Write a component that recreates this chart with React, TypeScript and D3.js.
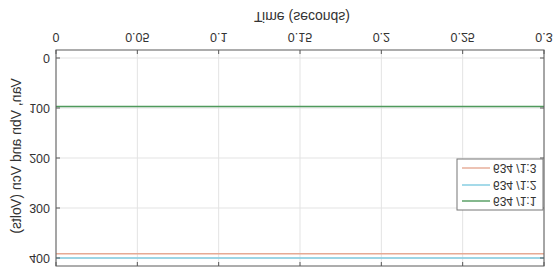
import React from "react";
import * as d3 from "d3";

const W = 556;
const H = 269;

// Data (original orientation: time on x, volts on y)
const timeTicks = [0, 0.05, 0.1, 0.15, 0.2, 0.25, 0.3];
const timeTickLabels = ["0", "0.05", "0.1", "0.15", "0.2", "0.25", "0.3"];
const voltTicks = [0, 100, 200, 300, 400];
const voltTickLabels = ["0", "100", "200", "300", "400"];
const seriesNames = ["634 /1:1", "634 /1:2", "634 /1:3"];
const seriesColors = ["#4f9a5c", "#7fcbe0", "#e6aa94"];
const times = [0, 0.3];
const series11 = [97, 97];
const series12 = [400, 400];
const series13 = [391.5, 391.5];
const allSeries = [series11, series12, series13];

export default function App() {
  const x = d3.scaleLinear().domain([0, 0.3]).range([56, 544]);
  const y = d3.scaleLinear().domain([-16, 416]).range([219, 3]);
  const line = d3
    .line<number>()
    .x((_, i) => x(times[i]))
    .y((d) => y(d));
  const font = "'Liberation Sans', Arial, Helvetica, sans-serif";
  const x0 = x.range()[0];
  const x1 = x.range()[1];
  const yTop = y.range()[1];
  const yBot = y.range()[0];
  const tk = 4;
  const axisColor = "#5a5a5a";
  const textColor = "#333";

  const legX = 457;
  const legY = 59;
  const legW = 86;
  const legH = 51;
  const rowYs = [68, 84, 101];

  return (
    <svg
      width={W}
      height={H}
      viewBox={`0 0 ${W} ${H}`}
      style={{ position: "absolute", left: 0, top: 0, background: "#fff" }}
    >
      <rect x={0} y={0} width={W} height={H} fill="#fff" />
      <g transform={`matrix(1,0,0,-1,0,${H})`}>
        <rect x={x0} y={yTop} width={x1 - x0} height={yBot - yTop} fill="#fff" />
        {/* grid */}
        {timeTicks.map((t) => (
          <line key={"gx" + t} x1={x(t)} x2={x(t)} y1={yTop} y2={yBot} stroke="#e3e3e3" strokeWidth={1} />
        ))}
        {voltTicks.map((v) => (
          <line key={"gy" + v} x1={x0} x2={x1} y1={y(v)} y2={y(v)} stroke="#e3e3e3" strokeWidth={1} />
        ))}
        {/* data lines */}
        {allSeries.map((s, i) => (
          <path key={"s" + i} d={line(s) || ""} fill="none" stroke={seriesColors[i]} strokeWidth={1.4} />
        ))}
        {/* frame */}
        <rect x={x0} y={yTop} width={x1 - x0} height={yBot - yTop} fill="none" stroke={axisColor} strokeWidth={1} />
        {/* ticks */}
        {timeTicks.map((t) => (
          <g key={"tx" + t}>
            <line x1={x(t)} x2={x(t)} y1={yBot} y2={yBot - tk} stroke={axisColor} />
            <line x1={x(t)} x2={x(t)} y1={yTop} y2={yTop + tk} stroke={axisColor} />
          </g>
        ))}
        {voltTicks.map((v) => (
          <g key={"ty" + v}>
            <line x1={x0} x2={x0 + tk} y1={y(v)} y2={y(v)} stroke={axisColor} />
            <line x1={x1} x2={x1 - tk} y1={y(v)} y2={y(v)} stroke={axisColor} />
          </g>
        ))}
        {/* tick labels */}
        {timeTicks.map((t, i) => (
          <text
            key={"lx" + t}
            x={x(t)}
            y={232}
            textAnchor="middle"
            dominantBaseline="central"
            fontFamily={font}
            fontSize={12.5}
            fill={textColor}
          >
            {timeTickLabels[i]}
          </text>
        ))}
        {voltTicks.map((v, i) => (
          <text
            key={"ly" + v}
            x={x0 - 6}
            y={y(v)}
            textAnchor="end"
            dominantBaseline="central"
            fontFamily={font}
            fontSize={12.5}
            fill={textColor}
          >
            {voltTickLabels[i]}
          </text>
        ))}
        {/* axis labels */}
        <text
          x={(x0 + x1) / 2 + 2}
          y={252}
          textAnchor="middle"
          dominantBaseline="central"
          fontFamily={font}
          fontSize={14}
          fill={textColor}
        >
          Time (seconds)
        </text>
        <text
          transform={`translate(16,113) rotate(-90)`}
          textAnchor="middle"
          dominantBaseline="central"
          fontFamily={font}
          fontSize={14}
          fill={textColor}
        >
          Van, Vbn and Vcn (Volts)
        </text>
        {/* legend */}
        <rect x={legX} y={legY} width={legW} height={legH} fill="#fff" stroke="#777" strokeWidth={1} />
        {seriesNames.map((n, i) => (
          <g key={"lg" + i}>
            <line x1={legX + 5} x2={legX + 33} y1={rowYs[i]} y2={rowYs[i]} stroke={seriesColors[i]} strokeWidth={1.4} />
            <text
              x={legX + 36}
              y={rowYs[i]}
              dominantBaseline="central"
              fontFamily={font}
              fontSize={12}
              fill={textColor}
            >
              {n}
            </text>
          </g>
        ))}
      </g>
    </svg>
  );
}
